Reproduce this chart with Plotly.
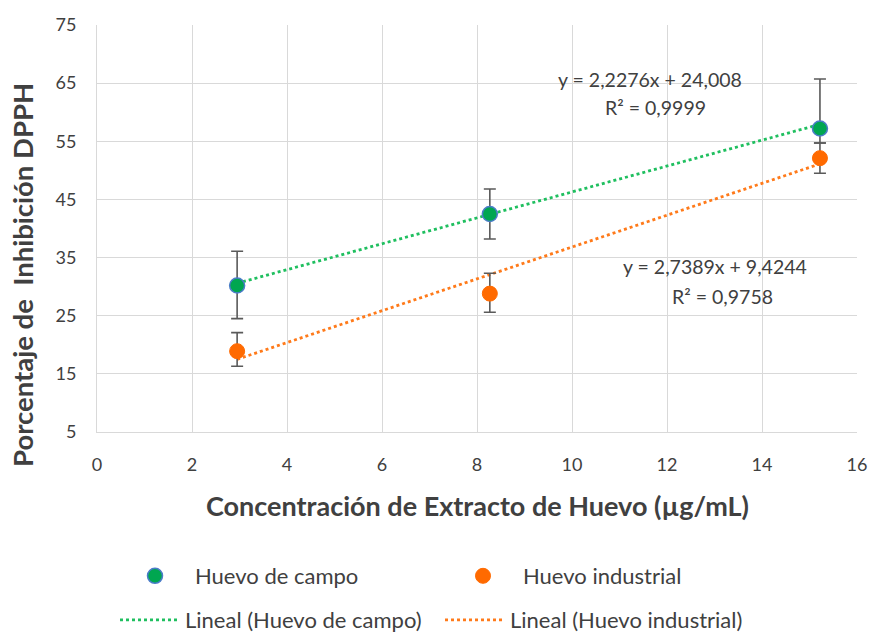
import plotly.graph_objects as go

# ---- data ----
conc = [2.95, 8.27, 15.22]
campo = [30.2, 42.5, 57.2]
campo_err_plus = [5.9, 4.3, 8.5]
campo_err_minus = [5.7, 4.3, 2.5]
industrial = [18.9, 28.8, 52.1]
industrial_err_plus = [3.2, 3.5, 2.6]
industrial_err_minus = [2.6, 3.2, 2.6]
campo_fit = [2.2276, 24.008]       # slope, intercept
industrial_fit = [2.7389, 9.4244]
campo_eq = ["y = 2,2276x + 24,008", "R² = 0,9999"]
industrial_eq = ["y = 2,7389x + 9,4244", "R² = 0,9758"]
x_ticks = [0, 2, 4, 6, 8, 10, 12, 14, 16]
y_ticks = [5, 15, 25, 35, 45, 55, 65, 75]

GREEN = "#00a650"
GREEN_LINE = "#1fbf5f"
ORANGE = "#ff6a00"
ORANGE_LINE = "#ff7a1a"
TXT = "#404040"
FONT = "Lato"
W, H = 870, 633
L, R, T, B = 97, 13, 25, 201
PW, PH = W - L - R, H - T - B

fit_x = [min(conc), max(conc)]
campo_line = [campo_fit[0] * x + campo_fit[1] for x in fit_x]
ind_line = [industrial_fit[0] * x + industrial_fit[1] for x in fit_x]

fig = go.Figure()

fig.add_trace(go.Scatter(
    x=fit_x, y=campo_line, mode="lines", name="Lineal (Huevo de campo)",
    line=dict(color=GREEN_LINE, width=2.8, dash="dot"), legend="legend3"))
fig.add_trace(go.Scatter(
    x=fit_x, y=ind_line, mode="lines", name="Lineal (Huevo industrial)",
    line=dict(color=ORANGE_LINE, width=2.8, dash="dot"), legend="legend4"))

fig.add_trace(go.Scatter(
    x=conc, y=campo, mode="markers", name="Huevo de campo",
    marker=dict(color=GREEN, size=15, line=dict(color="#4a7cc8", width=1.5)),
    error_y=dict(type="data", array=campo_err_plus, arrayminus=campo_err_minus,
                 color="#5a5a5a", thickness=1.6, width=6),
    legend="legend"))
fig.add_trace(go.Scatter(
    x=conc, y=industrial, mode="markers", name="Huevo industrial",
    marker=dict(color=ORANGE, size=15, line=dict(color=ORANGE, width=1)),
    error_y=dict(type="data", array=industrial_err_plus, arrayminus=industrial_err_minus,
                 color="#5a5a5a", thickness=1.6, width=6),
    legend="legend2"))


def px(xp):
    return (xp - L) / PW


def py(yp):
    return (H - B - yp) / PH


annotations = [
    dict(x=650, y=79, text=campo_eq[0]),
    dict(x=655, y=108, text=campo_eq[1]),
    dict(x=715, y=266, text=industrial_eq[0]),
    dict(x=722, y=296, text=industrial_eq[1]),
]
ann = []
for a in annotations:
    ann.append(dict(x=px(a["x"]), y=py(a["y"]), xref="paper", yref="paper",
                    text=a["text"], showarrow=False, xanchor="center", yanchor="middle",
                    font=dict(family=FONT, size=19.5, color=TXT)))
ann.append(dict(x=px(478), y=py(505), xref="paper", yref="paper",
                text="<b>Concentración de Extracto de Huevo (µg/mL)</b>", showarrow=False,
                xanchor="center", yanchor="middle",
                font=dict(family=FONT, size=27, color=TXT)))
ann.append(dict(x=px(22), y=py(275), xref="paper", yref="paper",
                text="<b>Porcentaje de  Inhibición DPPH</b>", showarrow=False, textangle=-90,
                xanchor="center", yanchor="middle",
                font=dict(family=FONT, size=27.5, color=TXT)))


def leg(xpix, ypix, iw):
    return dict(xref="container", yref="container", x=xpix / W, y=1 - ypix / H,
                xanchor="left", yanchor="middle", orientation="h", itemwidth=iw,
                font=dict(family=FONT, size=22, color=TXT), bgcolor="rgba(0,0,0,0)",
                borderwidth=0)


fig.update_layout(
    width=W, height=H,
    margin=dict(l=L, r=R, t=T, b=B, autoexpand=False),
    plot_bgcolor="white", paper_bgcolor="white",
    font=dict(family=FONT, size=18, color=TXT),
    annotations=ann,
    showlegend=True,
    legend=leg(115, 576, 70),
    legend2=leg(443, 576, 70),
    legend3=leg(115, 620, 60),
    legend4=leg(440, 620, 60),
    xaxis=dict(range=[0, 16], tickvals=x_ticks, showgrid=True, gridcolor="#d9d9d9", gridwidth=1,
               zeroline=False, showline=True, linecolor="#d9d9d9", automargin=False,
               ticks="", tickfont=dict(family=FONT, size=18, color=TXT), ticklabelstandoff=16),
    yaxis=dict(range=[5, 75], tickvals=y_ticks, showgrid=True, gridcolor="#d9d9d9", gridwidth=1,
               zeroline=False, showline=True, linecolor="#d9d9d9", automargin=False,
               ticks="", tickfont=dict(family=FONT, size=18, color=TXT), ticklabelstandoff=16),
)

fig.write_html("out.html", config={"displayModeBar": False},
               post_script="document.body.style.margin='0';")
